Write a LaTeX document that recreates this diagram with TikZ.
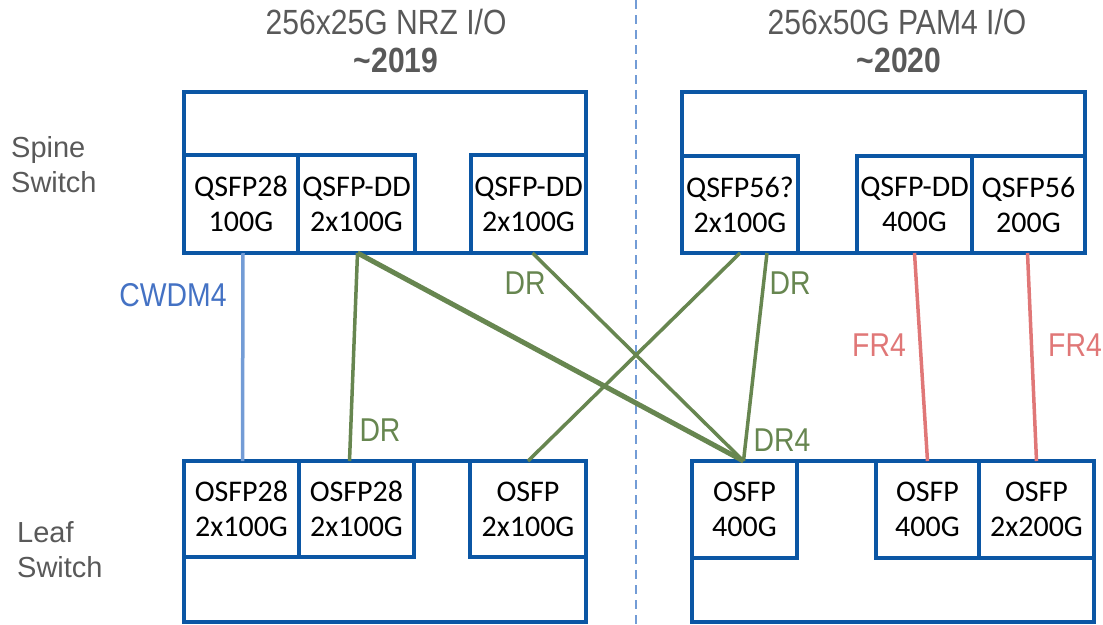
\documentclass[tikz,border=0pt]{standalone}
\usepackage{fontspec}
\setmainfont{Liberation Sans}
\newfontfamily\portfont{Carlito}
\newfontfamily\narrowfont[FakeStretch=0.86]{Liberation Sans}
\definecolor{SwitchBlue}{HTML}{0B56A4}
\definecolor{LinkBlue}{HTML}{739CD6}
\definecolor{LabelBlue}{HTML}{4472C4}
\definecolor{LinkGreen}{HTML}{678650}
\definecolor{LinkRed}{HTML}{E07777}
\definecolor{TextGray}{HTML}{595959}

\begin{document}
\begin{tikzpicture}[x=1pt,y=-1pt,
  frame/.style={draw=SwitchBlue,line width=4pt,fill=white,inner sep=0pt,outer sep=0pt,anchor=north west},
  port/.style={frame,align=center,text=black,font=\portfont\fontsize{30}{35}\selectfont},
  side/.style={text=TextGray,align=left,anchor=west,inner sep=0pt,font=\fontsize{29}{35}\selectfont},
  head/.style={text=TextGray,inner sep=0pt,font=\narrowfont\fontsize{35}{40}\selectfont},
  lbl/.style={inner sep=0pt,font=\narrowfont\fontsize{33}{38}\selectfont},
  cwdm/.style={LinkBlue,line width=3.5pt},
  drlink/.style={LinkGreen,line width=3.5pt},
  frlink/.style={LinkRed,line width=3.5pt}]
  \useasboundingbox (0,0) rectangle (1103,624);

  \coordinate (divtop) at (636,0);
  \coordinate (divbot) at (636,624);
  \draw[LinkBlue,line width=1.5pt,dash pattern=on 9pt off 6pt] (divtop) -- (divbot);

  \node[head] (nrz) at (386,22) {256x25G NRZ I/O};
  \node[head] (y2019) at (396,60) {\bfseries\textasciitilde2019};
  \node[head] (pam) at (897,22) {256x50G PAM4 I/O};
  \node[head] (y2020) at (899,60) {\bfseries\textasciitilde2020};

  \node[side] (spinelbl) at (11,165) {Spine\\Switch};
  \node[side] (leaflbl) at (17,550) {Leaf\\Switch};

  \node[frame,minimum width=402pt,minimum height=161pt] (spineL) at (184,92) {};
  \node[port,minimum width=114pt,minimum height=98pt] (sq28) at (184,155) {QSFP28\\100G};
  \node[port,minimum width=117pt,minimum height=98pt] (sdd1) at (298,155) {QSFP-DD\\2x100G};
  \node[port,minimum width=115pt,minimum height=98pt] (sdd2) at (471,155) {QSFP-DD\\2x100G};

  \node[frame,minimum width=403pt,minimum height=161pt] (spineR) at (682,92) {};
  \node[port,minimum width=116pt,minimum height=97pt] (sq56a) at (682,156) {QSFP56?\\2x100G};
  \node[port,minimum width=115pt,minimum height=97pt] (sdd3) at (857,156) {QSFP-DD\\400G};
  \node[port,minimum width=113pt,minimum height=97pt] (sq56b) at (972,156) {QSFP56\\200G};

  \node[frame,minimum width=402pt,minimum height=161pt] (leafL) at (184,461) {};
  \node[port,minimum width=115pt,minimum height=96pt] (o28a) at (184,461) {OSFP28\\2x100G};
  \node[port,minimum width=115pt,minimum height=96pt] (o28b) at (299,461) {OSFP28\\2x100G};
  \node[port,minimum width=116pt,minimum height=96pt] (osfp1) at (470,461) {OSFP\\2x100G};

  \node[frame,minimum width=402pt,minimum height=161pt] (leafR) at (692,461) {};
  \node[port,minimum width=105pt,minimum height=97pt] (osfp2) at (692,461) {OSFP\\400G};
  \node[port,minimum width=103pt,minimum height=97pt] (osfp3) at (876,461) {OSFP\\400G};
  \node[port,minimum width=115pt,minimum height=97pt] (osfp4) at (979,461) {OSFP\\2x200G};

  \draw[cwdm] ([xshift=2pt]sq28.south) -- ([xshift=1pt]o28a.north);
  \draw[drlink] ([xshift=1pt]sdd1.south) -- ([xshift=-7pt]o28b.north);
  \draw[drlink,line width=5pt] ([xshift=1pt]sdd1.south) -- ([xshift=-1pt]osfp2.north);
  \draw[drlink] ([xshift=4pt]sdd2.south) -- ([xshift=-1pt]osfp2.north);
  \draw[drlink] (sq56a.south) -- (osfp1.north);
  \draw[drlink] ([xshift=27pt]sq56a.south) -- ([xshift=-1pt]osfp2.north);
  \draw[frlink] (sdd3.south) -- (osfp3.north);
  \draw[frlink] ([xshift=-1pt]sq56b.south) -- (osfp4.north);

  \node[lbl,text=LabelBlue] (cwdmlbl) at (173,295) {CWDM4};
  \node[lbl,text=LinkGreen] (drlblA) at (380,430) {DR};
  \node[lbl,text=LinkGreen] (drlblB) at (525,283) {DR};
  \node[lbl,text=LinkGreen] (drlblC) at (790,283) {DR};
  \node[lbl,text=LinkGreen] (dr4lbl) at (782,440) {DR4};
  \node[lbl,text=LinkRed] (frlblA) at (879,345) {FR4};
  \node[lbl,text=LinkRed] (frlblB) at (1075,345) {FR4};
\end{tikzpicture}
\end{document}
